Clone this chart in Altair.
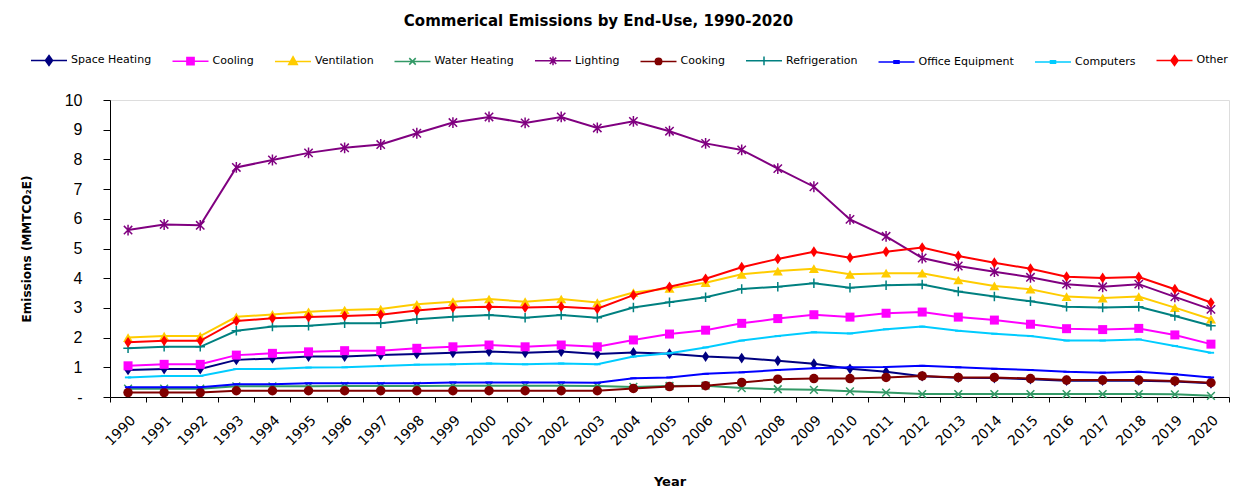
import altair as alt
import pandas as pd

years = list(range(1990, 2021))

series_names = ["Space Heating", "Cooling", "Ventilation", "Water Heating", "Lighting",
                "Cooking", "Refrigeration", "Office Equipment", "Computers", "Other"]

space_heating = [0.91, 0.94, 0.94, 1.25, 1.30, 1.36, 1.36, 1.41, 1.45, 1.49, 1.53, 1.49, 1.53, 1.45, 1.50,
                 1.46, 1.36, 1.31, 1.22, 1.12, 0.95, 0.85, 0.70, 0.65, 0.64, 0.60, 0.55, 0.55, 0.55, 0.52, 0.46]
cooling = [1.05, 1.10, 1.10, 1.41, 1.47, 1.52, 1.56, 1.56, 1.64, 1.69, 1.75, 1.69, 1.75, 1.69, 1.92,
           2.12, 2.25, 2.48, 2.64, 2.77, 2.69, 2.82, 2.86, 2.69, 2.59, 2.45, 2.30, 2.27, 2.31, 2.09, 1.78]
ventilation = [2.00, 2.05, 2.05, 2.70, 2.78, 2.87, 2.93, 2.96, 3.12, 3.21, 3.30, 3.21, 3.30, 3.18, 3.52,
               3.66, 3.85, 4.13, 4.24, 4.32, 4.13, 4.17, 4.17, 3.94, 3.74, 3.63, 3.38, 3.33, 3.38, 3.01, 2.62]
water_heating = [0.28, 0.28, 0.28, 0.36, 0.36, 0.36, 0.37, 0.37, 0.37, 0.38, 0.38, 0.38, 0.38, 0.37, 0.34,
                 0.37, 0.38, 0.30, 0.26, 0.24, 0.19, 0.15, 0.10, 0.10, 0.10, 0.10, 0.10, 0.10, 0.10, 0.09, 0.04]
lighting = [5.62, 5.81, 5.78, 7.73, 7.98, 8.22, 8.39, 8.50, 8.88, 9.24, 9.43, 9.23, 9.43, 9.06, 9.28,
            8.95, 8.54, 8.32, 7.69, 7.08, 5.98, 5.41, 4.68, 4.41, 4.22, 4.03, 3.80, 3.71, 3.80, 3.37, 2.95]
cooking = [0.15, 0.15, 0.15, 0.21, 0.21, 0.21, 0.21, 0.21, 0.21, 0.21, 0.21, 0.21, 0.21, 0.21, 0.29,
           0.35, 0.38, 0.49, 0.60, 0.62, 0.62, 0.66, 0.71, 0.66, 0.66, 0.62, 0.57, 0.57, 0.57, 0.54, 0.48]
refrigeration = [1.64, 1.69, 1.69, 2.23, 2.37, 2.40, 2.48, 2.48, 2.62, 2.70, 2.76, 2.67, 2.76, 2.67, 3.01,
                 3.19, 3.36, 3.64, 3.71, 3.83, 3.68, 3.76, 3.79, 3.55, 3.38, 3.22, 3.04, 3.01, 3.04, 2.73, 2.40]
office_equipment = [0.33, 0.33, 0.33, 0.43, 0.43, 0.46, 0.46, 0.46, 0.46, 0.49, 0.49, 0.49, 0.49, 0.48, 0.63,
                    0.66, 0.78, 0.83, 0.91, 0.97, 1.00, 1.01, 1.05, 1.00, 0.95, 0.91, 0.85, 0.82, 0.85, 0.77, 0.66]
computers = [0.66, 0.71, 0.71, 0.94, 0.94, 0.99, 1.00, 1.04, 1.09, 1.10, 1.13, 1.10, 1.13, 1.10, 1.36,
             1.47, 1.67, 1.90, 2.05, 2.18, 2.14, 2.28, 2.37, 2.23, 2.13, 2.05, 1.90, 1.90, 1.94, 1.72, 1.49]
other = [1.84, 1.89, 1.89, 2.56, 2.65, 2.69, 2.73, 2.77, 2.91, 3.01, 3.04, 3.01, 3.04, 2.97, 3.43,
         3.71, 3.98, 4.37, 4.65, 4.89, 4.69, 4.89, 5.03, 4.75, 4.52, 4.32, 4.05, 4.01, 4.04, 3.63, 3.18]

y_ticks = list(range(0, 11))

# ---- styles ----
colors = ["#000080", "#FF00FF", "#FFCC00", "#339966", "#800080",
          "#800000", "#008080", "#0000FF", "#00CCFF", "#FF0000"]
marker_shapes = [
    "M0,-1.2L0.8,0L0,1.2L-0.8,0Z",
    "square",
    "triangle-up",
    "M-1,-1L1,1M-1,1L1,-1",
    "M-1,-1L1,1M-1,1L1,-1M0,-1.3V1.3",
    "circle",
    "M-1,0H1M0,-1V1",
    "M-1,-0.3H1V0.3H-1Z",
    "M-1,-0.3H1V0.3H-1Z",
    "M0,-1.2L0.8,0L0,1.2L-0.8,0Z",
]
marker_sizes = [81, 81, 100, 60, 70, 90, 90, 40, 40, 81]
marker_filled = [True, True, True, False, False, True, False, True, True, True]
legend_shapes = [
    "M-1,0H1M0,-0.28L0.2,0L0,0.28L-0.2,0Z",
    "M-1,0H1M-0.2,-0.2H0.2V0.2H-0.2Z",
    "M-1,0H1M0,-0.26L0.24,0.18H-0.24Z",
    "M-1,0H1M-0.18,-0.18L0.18,0.18M-0.18,0.18L0.18,-0.18",
    "M-1,0H1M-0.18,-0.18L0.18,0.18M-0.18,0.18L0.18,-0.18M0,-0.24V0.24",
    "M-1,0H1M-0.18,0A0.18,0.18 0 1,0 0.18,0A0.18,0.18 0 1,0 -0.18,0Z",
    "M-1,0H1M0,-0.24V0.24",
    "M-1,0H1M-0.14,-0.07H0.14V0.07H-0.14Z",
    "M-1,0H1M-0.14,-0.07H0.14V0.07H-0.14Z",
    "M-1,0H1M0,-0.28L0.2,0L0,0.28L-0.2,0Z",
]

values = [space_heating, cooling, ventilation, water_heating, lighting,
          cooking, refrigeration, office_equipment, computers, other]
rows = []
for name, vals in zip(series_names, values):
    for yr, v in zip(years, vals):
        rows.append({"series": name, "year": yr, "value": v})
df = pd.DataFrame(rows)

X = alt.X(
    "year:Q",
    scale=alt.Scale(domain=[1989.5, 2020.5], nice=False, zero=False),
    axis=alt.Axis(
        values=[1989.5 + k for k in range(32)],
        labelExpr="datum.value > 2020 ? '' : format(datum.value + 0.5, 'd')",
        labelAngle=-45, labelOffset=18, labelFlush=False, labelOverlap=False,
        labelFont="DejaVu Sans", labelFontSize=14, labelColor="black",
        labelPadding=11, tickSize=5, tickColor="black", domainColor="black",
        grid=False, title="Year", titleFont="DejaVu Sans", titleFontSize=13,
        titleFontWeight="bold", titleColor="black", titlePadding=27,
    ),
)
Y = alt.Y(
    "value:Q",
    scale=alt.Scale(domain=[0, 10], nice=False),
    axis=alt.Axis(
        values=y_ticks,
        labelExpr="datum.value == 0 ? '-' : datum.label",
        labelFont="Liberation Sans", labelFontSize=16, labelColor="black",
        labelPadding=21, tickSize=7, tickColor="black", domainColor="black",
        grid=False, title="Emissions (MMTCO₂E)", titleFont="DejaVu Sans",
        titleFontSize=12, titleFontWeight="bold", titleColor="black", titlePadding=31,
    ),
)

base = alt.Chart(df)
layers = []
for name, color, shp, sz, fl in zip(series_names, colors, marker_shapes, marker_sizes, marker_filled):
    sub = base.transform_filter(alt.datum.series == name)
    layers.append(sub.mark_line(color=color, strokeWidth=2).encode(x=X, y=Y))
    layers.append(sub.mark_point(shape=shp, size=sz, filled=fl, color=color, opacity=1,
                                 strokeWidth=1.5).encode(x=X, y=Y))

leg = alt.Legend(orient="none", legendX=-80, legendY=-59, direction="horizontal", title=None,
                 symbolSize=1296, symbolStrokeWidth=1.5, labelFont="DejaVu Sans",
                 labelFontSize=11, labelColor="black", columnPadding=17.5, labelOffset=3)
legend_layer = base.mark_point(filled=True, opacity=1).encode(
    x=X, y=Y,
    fill=alt.Fill("series:N", scale=alt.Scale(domain=series_names, range=colors), legend=leg),
    stroke=alt.Stroke("series:N", scale=alt.Scale(domain=series_names, range=colors), legend=leg),
    shape=alt.Shape("series:N", scale=alt.Scale(domain=series_names, range=legend_shapes), legend=leg),
).transform_filter("false")
layers.append(legend_layer)

chart = alt.layer(*layers).properties(
    width=1119, height=297,
    title=alt.TitleParams("Commerical Emissions by End-Use, 1990-2020", font="DejaVu Sans",
                          fontSize=15, fontWeight="bold", color="black", anchor="middle",
                          dx=-71, dy=-8),
    autosize=alt.AutoSizeParams(type="none"),
    padding={"left": 110, "top": 100, "right": 15, "bottom": 107},
).configure_view(strokeOpacity=0).configure(background="white")

chart.save("out.html", embed_options={"renderer": "svg", "actions": False})
